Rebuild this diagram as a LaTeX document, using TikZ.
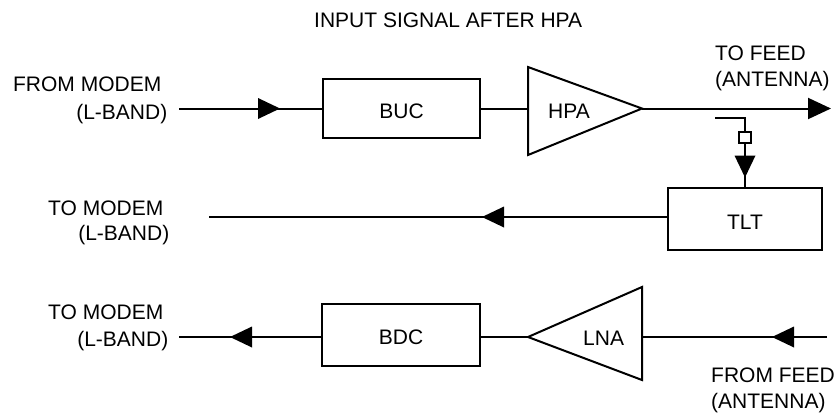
\documentclass[tikz,border=0pt]{standalone}
\usepackage{fontspec}
\setmainfont{Liberation Sans}
\usetikzlibrary{arrows.meta,decorations.markings}
\tikzset{
  ln/.style={line width=2pt},
  blk/.style={draw, line width=2pt, inner sep=0pt, text height=20pt,
    font=\fontsize{21}{25}\selectfont},
  lbl/.style={inner sep=0pt, font=\fontsize{21}{25}\selectfont},
  arrowat/.style={postaction={decorate, decoration={markings,
    mark=at position #1 with {\fill (-22pt,-10.5pt) -- (0pt,0pt) -- (-22pt,10.5pt) -- cycle;}}}},
  endtip/.style={-{Triangle[length=23pt,width=21pt]}}
}
\begin{document}
\begin{tikzpicture}[x=1pt,y=-1pt]
\useasboundingbox (0,0) rectangle (836,413);

% title
\node[lbl, anchor=base west] (title) at (314,27) {INPUT SIGNAL AFTER HPA};

% ---------- top row ----------
\node[lbl, anchor=base east] (fm1) at (161.5,91) {FROM MODEM};
\node[lbl, anchor=base east] (fm2) at (167.5,119) {(L-BAND)};
\coordinate (in1) at (179,108.5);
\node[blk, minimum width=157pt, minimum height=59pt] (buc) at (401.5,108.5) {BUC};
\coordinate (hpaL) at (528,108.5);
\coordinate (hpaOut) at (642,108.5);
\draw[ln, line join=miter] (528,67) -- (hpaOut) -- (528,155) -- cycle;
\node[lbl, anchor=base west] (hpa) at (548,118) {HPA};
\coordinate (feedOut) at (831,108.5);
\node[lbl, anchor=base west] (tf1) at (715,60) {TO FEED};
\node[lbl, anchor=base west] (tf2) at (715,86) {(ANTENNA)};

\draw[ln, arrowat=101pt] (in1) -- (buc.west |- in1);
\draw[ln] (buc.east |- hpaL) -- (hpaL);
\draw[ln, endtip] (hpaOut) -- (feedOut);

% coupler
\coordinate (cplA) at (715,118);
\coordinate (cplB) at (745,118);
\node[draw, line width=2pt, minimum width=12pt, minimum height=11pt, inner sep=0pt] (cpl) at (745,137) {};

% ---------- middle row ----------
\node[blk, minimum width=154pt, minimum height=62pt] (tlt) at (745,219) {TLT};
\coordinate (out2) at (209,217);
\node[lbl, anchor=base east] (tm1) at (163.5,215) {TO MODEM};
\node[lbl, anchor=base east] (tm2) at (169.5,240) {(L-BAND)};

\draw[ln, line join=miter] (cplA) -- (cplB) -- (cpl.north);
\draw[ln, arrowat=34pt] (cpl.south) -- (tlt.north);
\draw[ln, arrowat=185pt] (tlt.west |- out2) -- (out2);

% ---------- bottom row ----------
\node[lbl, anchor=base east] (bm1) at (163.5,319) {TO MODEM};
\node[lbl, anchor=base east] (bm2) at (168.5,346) {(L-BAND)};
\coordinate (out3) at (179,337);
\node[blk, minimum width=158pt, minimum height=62pt] (bdc) at (401,335) {BDC};
\coordinate (lnaApex) at (528,337);
\coordinate (lnaR) at (642,337);
\draw[ln, line join=miter] (642,287) -- (lnaApex) -- (642,380) -- cycle;
\node[lbl, anchor=base west] (lna) at (583,345) {LNA};
\coordinate (in4) at (827,337);
\node[lbl, anchor=base west] (ff1) at (711,382) {FROM FEED};
\node[lbl, anchor=base west] (ff2) at (711,408) {(ANTENNA)};

\draw[ln, arrowat=91pt] (bdc.west |- out3) -- (out3);
\draw[ln] (lnaApex) -- (bdc.east |- lnaApex);
\draw[ln, arrowat=55pt] (in4) -- (lnaR);
\end{tikzpicture}
\end{document}
